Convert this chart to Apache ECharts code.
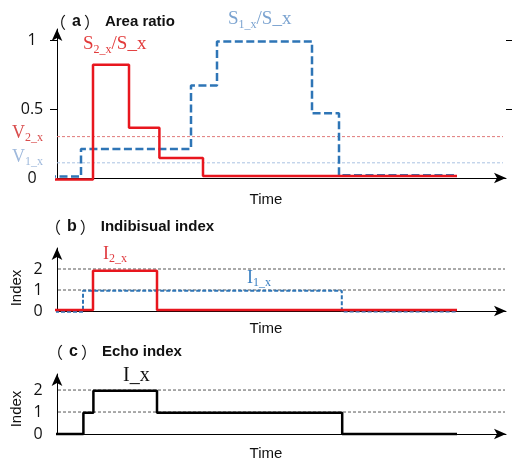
<!DOCTYPE html>
<html><head><meta charset="utf-8">
<script src="https://cdn.jsdelivr.net/npm/echarts@6/dist/echarts.min.js"></script>
<style>html,body{margin:0;padding:0;background:#fff}#c{width:515px;height:462px}</style>
</head><body><div id="c"></div>
<script>
// ---------- data ----------
// Panel (a): area ratios (step changes: time of change, value after change)
const timeS2 = [-2.25, 9, 18, 25.6, 36.5, 100];
const valS2  = [-0.01, 0.82, 0.365, 0.145, 0.015, 0.015];
const timeS1 = [-2.25, 6, 33.5, 40, 63.75, 70.5, 100];
const valS1  = [0.01, 0.21, 0.67, 0.99, 0.47, 0.02, 0.02];
const thresholdV2 = 0.30;
const thresholdV1 = 0.11;
const thresholdSpan = [-2.5, 111.5];
const ticksA = [0, 0.5, 1];
// Panel (b): individual indices
const timeI2 = [-0.5, 9, 25, 100];
const valI2  = [0.05, 1.92, 0.05, 0.05];
const timeI1 = [-0.5, 6.5, 71.2, 100];
const valI1  = [-0.03, 0.96, -0.02, -0.02];
// Panel (c): echo index
const timeIx = [-0.25, 6.6, 9.1, 25, 71.3, 100];
const valIx  = [0, 0.97, 1.97, 0.97, 0, 0];
const ticksIdx = [0, 1, 2];
const gridSpan = [-1, 112];

// ---------- helpers ----------
const zip = (t, v) => t.map((x, i) => [x, v[i]]);
const SERIF = '"Liberation Serif","DejaVu Serif",serif';
const SANS = '"Liberation Sans","Noto Sans",sans-serif';
const XMAX = 112.25;

function xAx(i) {
  return { type: 'value', gridIndex: i, min: 0, max: XMAX,
    axisLine: { symbol: ['none', 'arrow'], symbolSize: [8, 12], lineStyle: { color: '#000', width: 1 } },
    axisTick: { show: false }, axisLabel: { show: false }, splitLine: { show: false } };
}
function yAx(i, max, ticks, margin) {
  return { type: 'value', gridIndex: i, min: 0, max: max,
    axisLine: { symbol: ['none', 'arrow'], symbolSize: [8, 12], lineStyle: { color: '#000', width: 1 } },
    axisTick: { show: false },
    axisLabel: { customValues: ticks, margin: margin, align: 'center', fontSize: 16, color: '#111', fontFamily: '"Open Sans",sans-serif' },
    splitLine: { show: false } };
}
function stepLine(name, data, xi, yi, color, width, type, z) {
  return { name, type: 'line', xAxisIndex: xi, yAxisIndex: yi, data, step: 'end', symbol: 'none', clip: false,
    silent: true, z: z, lineStyle: { color, width, type } };
}
function refLine(v, xi, yi, color, type) {
  return { type: 'line', xAxisIndex: xi, yAxisIndex: yi, data: zip(thresholdSpan, [v, v]), symbol: 'none', clip: false,
    silent: true, z: 1, lineStyle: { color, width: 1, type } };
}
function gridLine(v, xi, yi) {
  return { type: 'line', xAxisIndex: xi, yAxisIndex: yi, data: zip(gridSpan, [v, v]), symbol: 'none', clip: false,
    silent: true, z: 1, lineStyle: { color: '#555', width: 1, type: [3, 2] } };
}
function subText(x, y, main, sub, rest, color, size, subSize) {
  return { type: 'text', x, y, silent: true, style: {
    text: '{m|' + main + '}{s|' + sub + '}' + (rest ? '{m|' + rest + '}' : ''),
    verticalAlign: 'top', align: 'left',
    rich: {
      m: { fontFamily: SERIF, fontSize: size, lineHeight: size + 4, fill: color, verticalAlign: 'middle' },
      s: { fontFamily: SERIF, fontSize: subSize, fill: color, verticalAlign: 'bottom' }
    } } };
}
function title(x, y, letter, words) {
  return { type: 'text', x, y, silent: true, style: {
    text: '{p|（}{l|' + letter + '}{p|）}{t|' + words + '}', verticalAlign: 'middle', align: 'left',
    rich: {
      p: { fontFamily: '"Noto Sans CJK SC"', fontSize: 16, fill: '#111' },
      l: { fontFamily: SANS, fontSize: 16, fontWeight: 'bold', fill: '#111', padding: [0, 3, 0, 6] },
      t: { fontFamily: SANS, fontSize: 15, fontWeight: 'bold', fill: '#111', padding: [0, 0, 0, 5] }
    } } };
}
function plain(x, y, text, opts) {
  return Object.assign({ type: 'text', x, y, silent: true, style: Object.assign({ text, fontFamily: SANS, fontSize: 15, fill: '#111', align: 'center', verticalAlign: 'middle' }, opts || {}) });
}

const chart = echarts.init(document.getElementById('c'), null, { renderer: 'canvas' });
const tickSet = [0.5, 1];
const yA = yAx(0, 1.08, ticksA, 25);
yA.axisTick = { show: true, length: 7, customValues: tickSet, lineStyle: { color: '#000' } };
const yA2 = { type: 'value', gridIndex: 0, position: 'right', min: 0, max: 1.08,
  axisLine: { show: false }, axisLabel: { show: false }, splitLine: { show: false },
  axisTick: { show: true, length: 6, customValues: tickSet, lineStyle: { color: '#000' } } };

chart.setOption({
  animation: false,
  backgroundColor: '#fff',
  grid: [
    { left: 57, top: 29, width: 449, height: 149 },
    { left: 57, top: 248, width: 449, height: 63 },
    { left: 57, top: 374, width: 449, height: 60 }
  ],
  xAxis: [xAx(0), xAx(1), xAx(2)],
  yAxis: [yA, yA2, yAx(1, 3.0, ticksIdx, 19), yAx(2, 2.73, ticksIdx, 19)],
  series: [
    refLine(thresholdV2, 0, 0, '#e07a7a', [3, 2]),
    refLine(thresholdV1, 0, 0, '#a9c2e2', [3, 2]),
    stepLine('S1_x/S_x', zip(timeS1, valS1), 0, 0, '#2e75b6', 2.5, [8, 3.5], 3),
    stepLine('S2_x/S_x', zip(timeS2, valS2), 0, 0, '#e8161e', 2.5, 'solid', 4),
    gridLine(2, 1, 2), gridLine(1, 1, 2),
    stepLine('I1_x', zip(timeI1, valI1), 1, 2, '#2e75b6', 2, [4, 2], 3),
    stepLine('I2_x', zip(timeI2, valI2), 1, 2, '#e8161e', 2.5, 'solid', 4),
    gridLine(2, 2, 3), gridLine(1, 2, 3),
    stepLine('I_x', zip(timeIx, valIx), 2, 3, '#000', 2.5, 'solid', 4)
  ],
  graphic: [
    title(50, 22, 'a', 'Area ratio'),
    title(45, 227, 'b', 'Indibisual index'),
    title(47, 352, 'c', 'Echo index'),
    subText(83, 33, 'S', '2_x', '/S_x', '#e23a3a', 19, 12),
    subText(228, 8, 'S', '1_x', '/S_x', '#7ba3d0', 19, 12),
    subText(12, 122, 'V', '2_x', '', '#d94c4c', 18, 12),
    subText(12, 146, 'V', '1_x', '', '#9fb9dc', 18, 12),
    subText(103, 243, 'I', '2_x', '', '#e0393e', 18, 12),
    subText(247, 267, 'I', '1_x', '', '#3a7fc1', 18, 12),
    { type: 'text', x: 123, y: 366, silent: true, style: { text: 'I_x', fontFamily: SERIF, fontSize: 20, fill: '#111', verticalAlign: 'top' } },
    plain(266, 200, 'Time'),
    plain(266, 329, 'Time'),
    plain(266, 454, 'Time'),
    plain(17, 288, 'Index', { }),
    plain(17, 409, 'Index', { })
  ].map(g => {
    if (g.style && g.style.text === 'Index') { g.rotation = Math.PI / 2; }
    return g;
  })
});
</script></body></html>
